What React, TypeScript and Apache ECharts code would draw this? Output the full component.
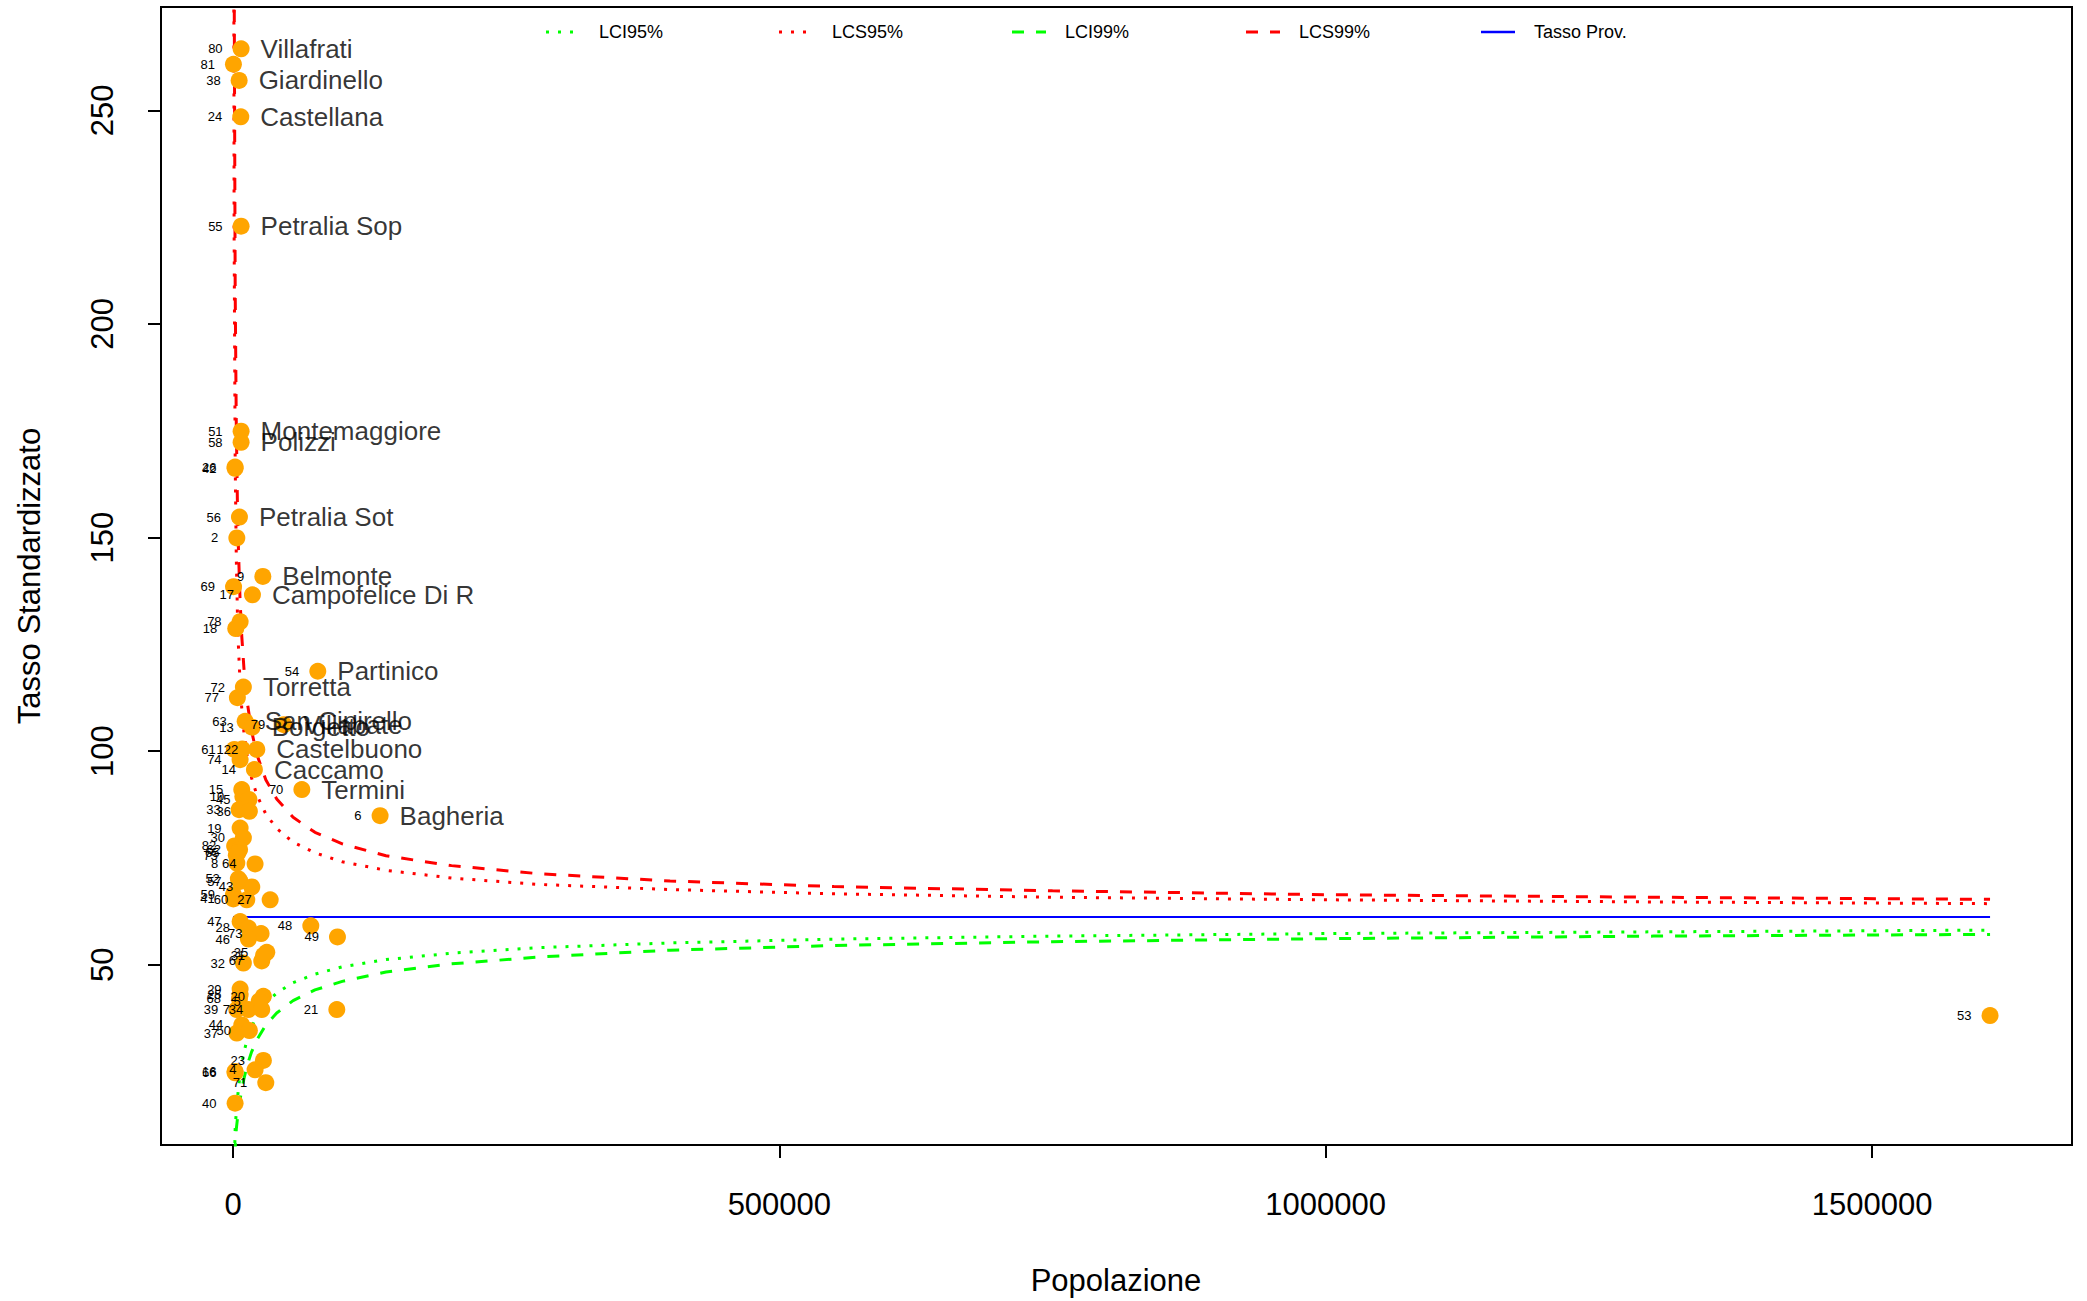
import React, { useEffect, useRef } from "react";
import * as echarts from "echarts";

// Funnel plot data: comune id, population (x), standardized rate (y), name label (only outliers)
const IDS = [80, 81, 38, 24, 55, 51, 58, 26, 42, 56, 2, 9, 69, 17, 78, 18, 54, 72, 77, 63, 13, 79, 61, 1, 22, 74, 14, 70, 15, 10, 45, 33, 36, 6, 19, 30, 82, 62, 65, 75, 8, 64, 52, 57, 43, 59, 41, 60, 27, 47, 28, 73, 46, 48, 49, 32, 67, 35, 31, 29, 25, 68, 20, 5, 39, 7, 34, 21, 44, 37, 50, 23, 16, 66, 4, 71, 40, 53];
const POP = [7400, 400, 5600, 7100, 7400, 7400, 7400, 1900, 1900, 5900, 3500, 27300, 500, 17800, 6500, 2500, 77600, 9500, 4000, 11100, 17500, 46500, 1200, 8400, 21800, 6500, 19600, 63000, 8000, 9000, 14600, 5600, 15000, 134600, 6500, 9500, 1500, 6000, 4500, 3000, 3500, 20200, 4900, 6500, 17200, 400, 300, 12600, 34000, 6500, 14100, 25700, 14100, 71200, 95600, 9500, 26300, 30900, 28000, 6500, 6500, 5900, 27800, 24000, 3500, 14100, 26300, 95000, 8000, 3500, 15000, 27800, 1900, 1900, 20200, 30000, 1900, 1608000];
const RATE = [264.4, 260.8, 257.0, 248.5, 222.9, 174.9, 172.3, 166.5, 166.2, 154.8, 149.9, 140.9, 138.5, 136.6, 130.3, 128.7, 118.7, 115.0, 112.5, 107.0, 105.6, 106.2, 100.4, 100.5, 100.4, 98.0, 95.7, 91.0, 91.0, 89.4, 88.7, 86.3, 85.9, 84.9, 82.0, 79.7, 77.8, 77.0, 76.2, 75.6, 73.8, 73.6, 70.1, 69.5, 68.2, 66.4, 65.4, 65.2, 65.2, 60.1, 58.6, 57.3, 56.0, 59.1, 56.5, 50.4, 50.9, 52.9, 52.2, 44.3, 43.0, 42.0, 42.6, 41.5, 39.5, 39.5, 39.5, 39.5, 35.9, 34.0, 34.6, 27.6, 25.0, 24.7, 25.4, 22.4, 17.6, 38.1];
const NAMES = ["Villafrati", "", "Giardinello", "Castellana", "Petralia Sop", "Montemaggiore", "Polizzi", "", "", "Petralia Sot", "", "Belmonte", "", "Campofelice Di R", "", "", "Partinico", "Torretta", "", "San Cipirello", "Borgetto", "Villabate", "", "", "Castelbuono", "", "Caccamo", "Termini", "", "", "", "", "", "Bagheria", "", "", "", "", "", "", "", "", "", "", "", "", "", "", "", "", "", "", "", "", "", "", "", "", "", "", "", "", "", "", "", "", "", "", "", "", "", "", "", "", "", "", "", ""];

// Control limits
const CURVE_X = [300, 1000, 2000, 3000, 4000, 5000, 6500, 8000, 10000, 13000, 17000, 22000, 30000, 40000, 55000, 75000, 100000, 140000, 200000, 280000, 400000, 550000, 750000, 1000000, 1300000, 1608000];
const LCS99 = [560, 286.1, 207.8, 176.4, 158.7, 147.0, 135.1, 127.0, 119.4, 111.5, 104.7, 99.1, 93.3, 88.8, 84.5, 81.0, 78.3, 75.5, 73.2, 71.3, 69.6, 68.3, 67.3, 66.4, 65.8, 65.3];
const LCS95 = [400, 221.7, 167.4, 145.4, 132.7, 124.3, 115.8, 110.0, 104.4, 98.7, 93.7, 89.6, 85.3, 81.9, 78.7, 76.2, 74.1, 72.1, 70.3, 68.8, 67.6, 66.6, 65.8, 65.2, 64.7, 64.3];
const LCI95 = [0, 0, 12.0, 15.4, 18.4, 21.1, 24.3, 26.8, 29.5, 32.6, 35.5, 38.0, 41.0, 43.4, 45.8, 47.8, 49.5, 51.2, 52.7, 54.0, 55.1, 56.0, 56.7, 57.3, 57.7, 58.1];
const LCI99 = [0, 0, 7.0, 11.5, 13.8, 16.0, 18.5, 20.8, 23.3, 26.5, 29.6, 32.5, 35.9, 38.7, 41.6, 44.1, 46.1, 48.3, 50.2, 51.8, 53.4, 54.5, 55.4, 56.1, 56.7, 57.1];
const TASSO_X = [0, 1608000];
const TASSO_Y = [61.2, 61.2];

const X_TICKS = [0, 500000, 1000000, 1500000];
const Y_TICKS = [50, 100, 150, 200, 250];

const LEGEND = [
  { name: "LCI95%", color: "#00FF00", dash: [3, 9] as number[] | null },
  { name: "LCS95%", color: "#FF0000", dash: [3, 9] },
  { name: "LCI99%", color: "#00FF00", dash: [12, 12] },
  { name: "LCS99%", color: "#FF0000", dash: [12, 12] },
  { name: "Tasso Prov.", color: "#0000FF", dash: null },
];

const FONT = "'Liberation Sans', Arial, Helvetica, sans-serif";

export default function App() {
  const ref = useRef<HTMLDivElement>(null);
  useEffect(() => {
    const chart = echarts.init(ref.current!, null, { renderer: "svg" });
    const zip = (xs: number[], ys: number[]) => xs.map((x, i) => [x, ys[i]]);
    const lineSeries = (name: string, ys: number[], color: string, dash: number[] | null, width: number, xs = CURVE_X) => ({
      type: "line",
      name,
      data: zip(xs, ys),
      showSymbol: false,
      symbol: "none",
      clip: true,
      silent: true,
      z: 2,
      lineStyle: { color, width, type: dash ? dash : "solid", cap: "butt" },
    });
    const pts = POP.map((p, i) => [p, RATE[i], String(IDS[i])]);
    const named = POP.map((p, i) => [p, RATE[i], NAMES[i]]).filter((d) => d[2] !== "");

    const legendGraphics: any[] = [];
    const legX = [546, 779, 1012, 1246, 1481];
    LEGEND.forEach((l, i) => {
      legendGraphics.push({
        type: "line",
        shape: { x1: legX[i], y1: 32, x2: legX[i] + 34, y2: 32 },
        style: { stroke: l.color, lineWidth: l.dash ? 3 : 2.5, lineDash: l.dash || undefined },
        silent: true,
      });
      legendGraphics.push({
        type: "text",
        x: legX[i] + 53,
        y: 32,
        style: { text: l.name, font: `18px ${FONT}`, fill: "#000", textVerticalAlign: "middle", textAlign: "left" },
        silent: true,
      });
    });

    chart.setOption({
      animation: false,
      backgroundColor: "#fff",
      grid: { left: 161, top: 7, width: 1911, height: 1138, show: true, borderColor: "#000", borderWidth: 2, backgroundColor: "transparent" },
      xAxis: {
        type: "value",
        min: -65900,
        max: 1683000,
        splitLine: { show: false },
        axisLine: { show: false, onZero: false },
        axisTick: { show: true, customValues: X_TICKS, length: 13, lineStyle: { color: "#000", width: 2 } },
        axisLabel: { customValues: X_TICKS, fontSize: 31, color: "#000", fontFamily: FONT, margin: 44, formatter: (v: number) => String(v) },
      },
      yAxis: {
        type: "value",
        min: 7.8,
        max: 274.2,
        splitLine: { show: false },
        axisLine: { show: false, onZero: false },
        axisTick: { show: true, customValues: Y_TICKS, length: 13, lineStyle: { color: "#000", width: 2 } },
        axisLabel: { customValues: Y_TICKS, fontSize: 31, color: "#000", fontFamily: FONT, margin: 43, rotate: 90, formatter: (v: number) => String(v) },
      },
      graphic: [
        ...legendGraphics,
        { type: "text", x: 1116, y: 1280, style: { text: "Popolazione", font: `31px ${FONT}`, fill: "#000", textAlign: "center", textVerticalAlign: "middle" }, silent: true },
        { type: "text", x: 29, y: 576, rotation: Math.PI / 2, style: { text: "Tasso Standardizzato", font: `31px ${FONT}`, fill: "#000", textAlign: "center", textVerticalAlign: "middle" }, silent: true },
      ],
      series: [
        lineSeries("LCI95%", LCI95, "#00FF00", [3, 9], 3),
        lineSeries("LCS95%", LCS95, "#FF0000", [3, 9], 3),
        lineSeries("LCI99%", LCI99, "#00FF00", [12, 12], 3),
        lineSeries("LCS99%", LCS99, "#FF0000", [12, 12], 3),
        lineSeries("Tasso Prov.", TASSO_Y, "#0000FF", null, 2, TASSO_X),
        {
          type: "scatter",
          data: pts,
          symbol: "circle",
          symbolSize: 17,
          z: 3,
          silent: true,
          itemStyle: { color: "#FFA500", opacity: 1 },
          label: { show: true, position: "left", distance: 10, fontSize: 13, color: "#000", fontFamily: FONT, formatter: (p: any) => p.data[2] },
        },
        {
          type: "scatter",
          data: named,
          symbol: "circle",
          symbolSize: 17,
          z: 4,
          silent: true,
          itemStyle: { color: "rgba(0,0,0,0)" },
          label: { show: true, position: "right", distance: 11, fontSize: 26, color: "#000", fontFamily: FONT, formatter: (p: any) => p.data[2] },
        },
      ],
    });
    return () => chart.dispose();
  }, []);
  return <div ref={ref} style={{ position: "absolute", left: 0, top: 0, width: 2087, height: 1301, background: "#fff" }} />;
}
